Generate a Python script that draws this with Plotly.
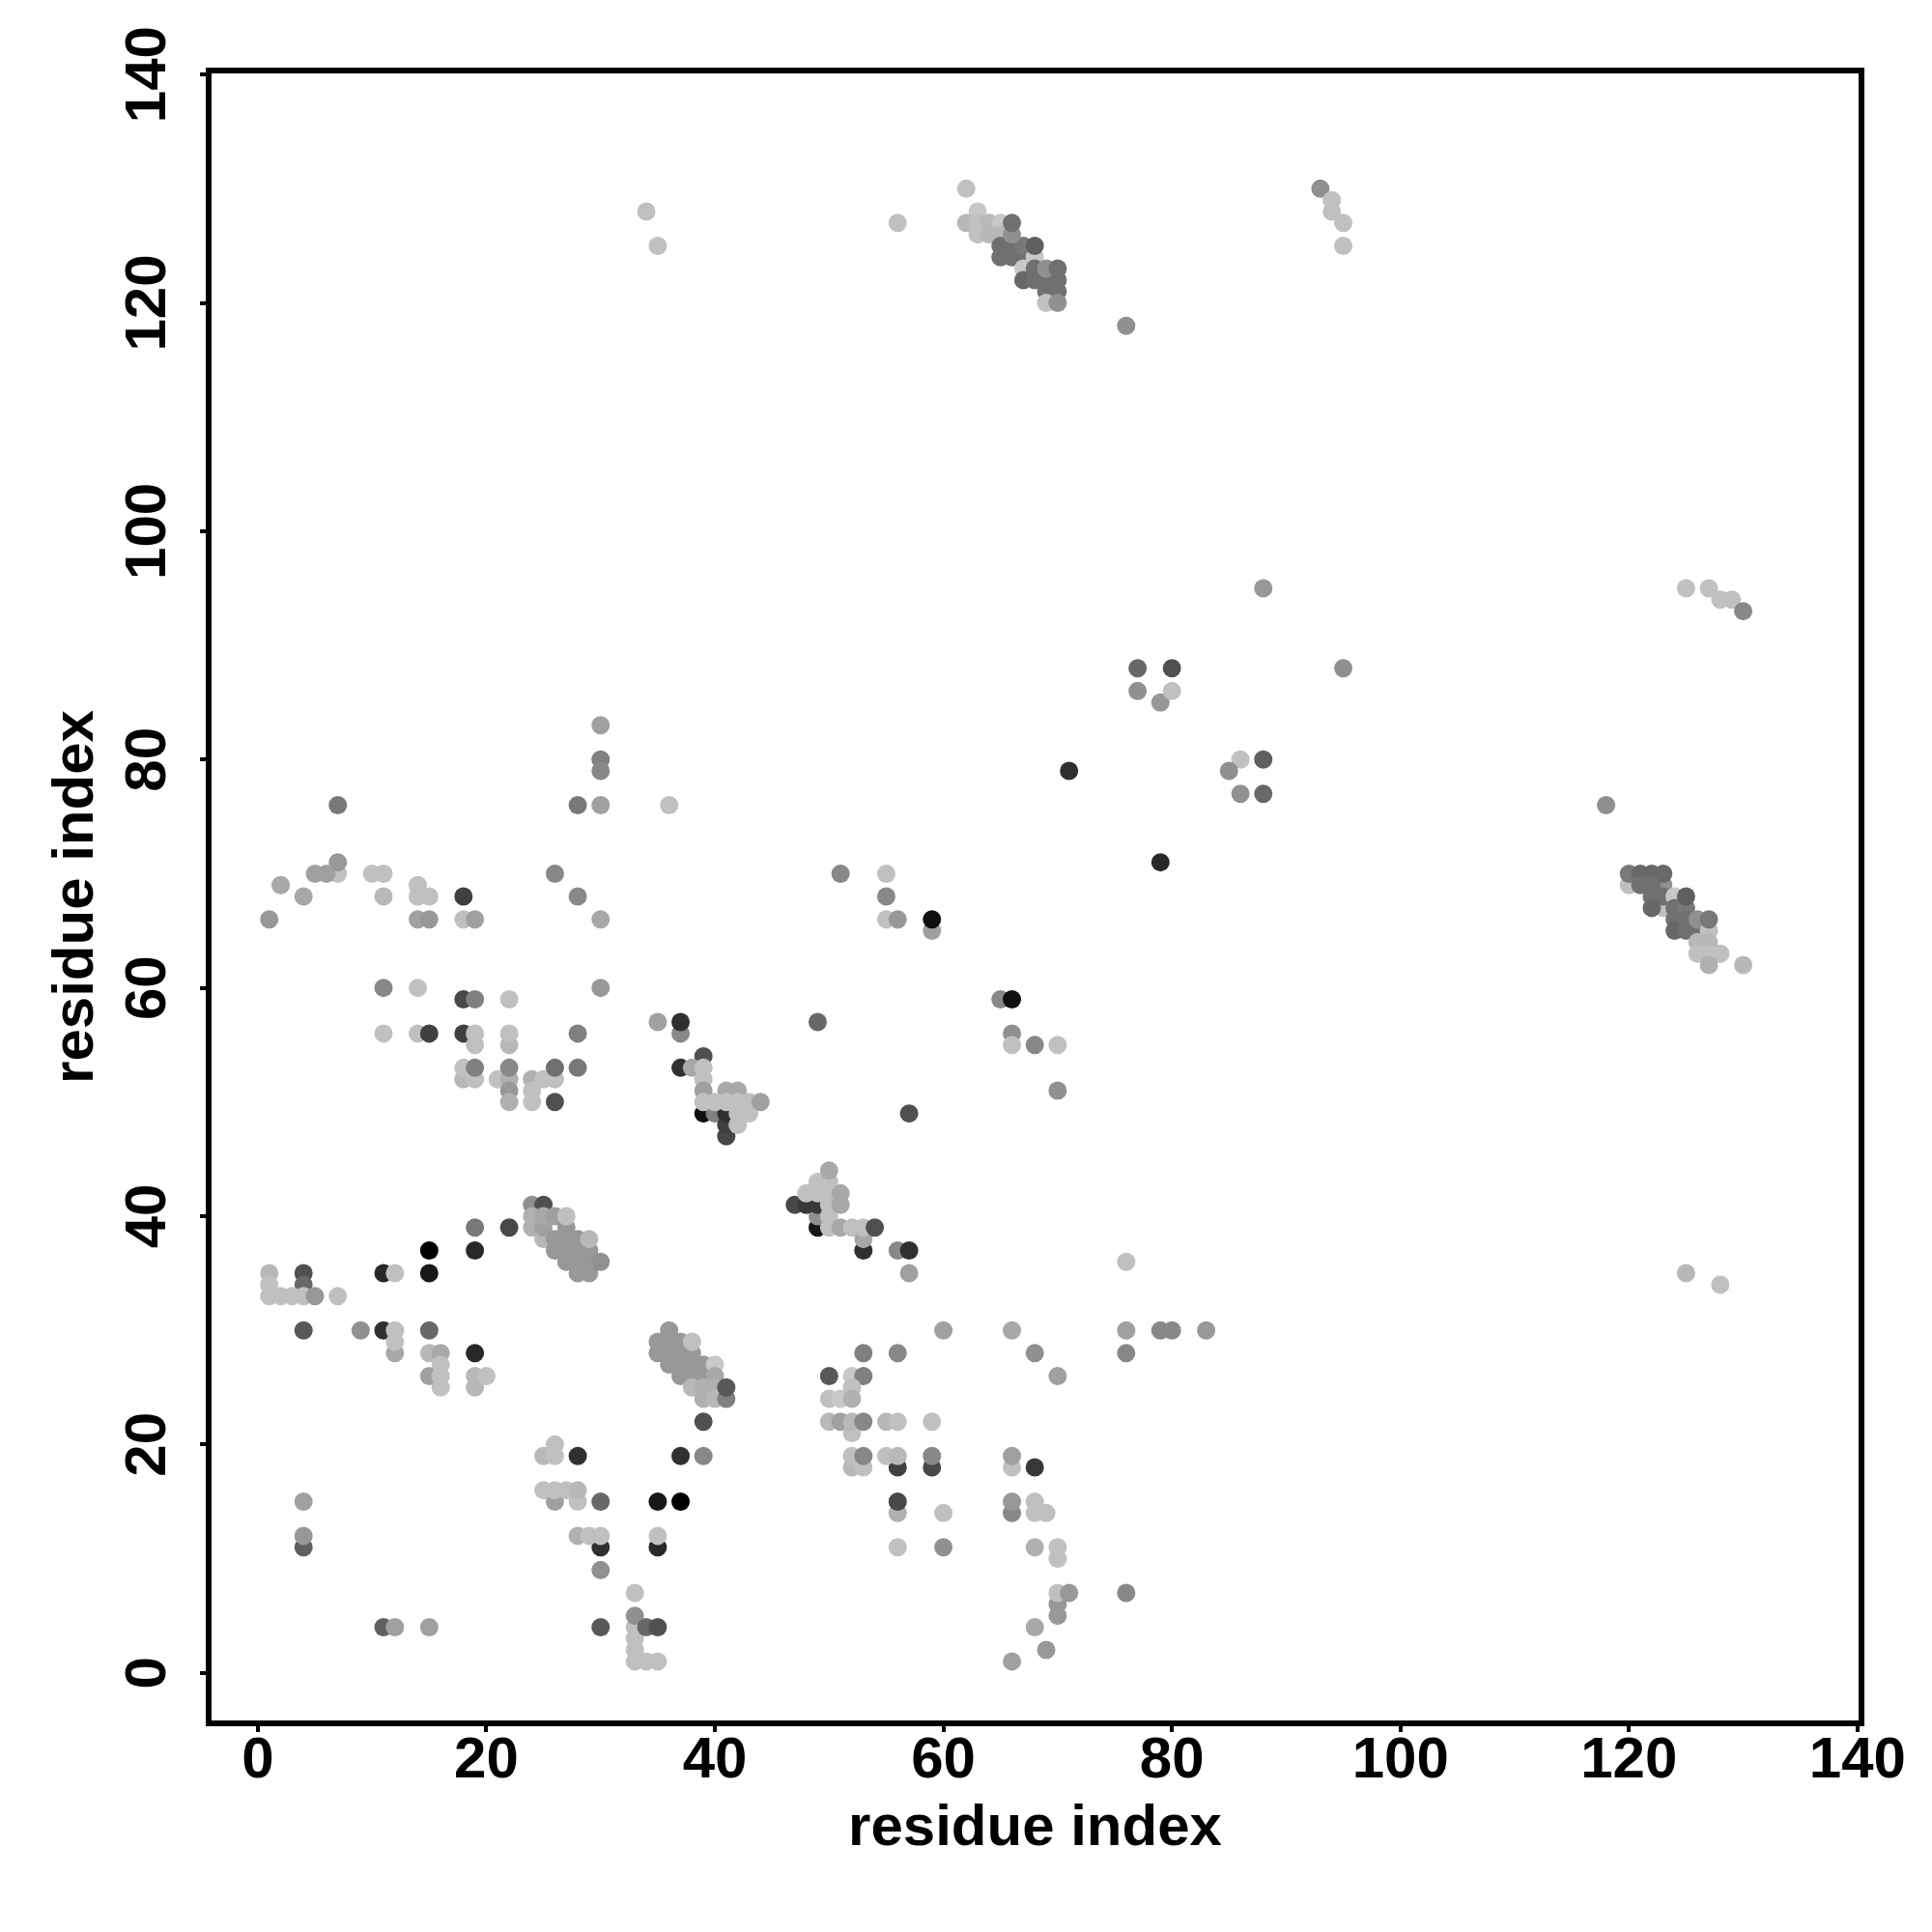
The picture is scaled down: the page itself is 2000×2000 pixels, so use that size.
import plotly.graph_objects as go

# Contacts as rows: (residue i, residue j, grey level)
contacts = [
 (62,130,0xc0),(93,130,0x90),(94,129,0xc0),(34,128,0xc0),(63,128,0xc8),(94,128,0xc0),
 (56,127,0xc0),(95,127,0xc0),(95,125,0xc0),(35,125,0xc0),
 (62,127,0xb8),(63,127,0xc0),(64,127,0xb8),(65,127,0xc8),(63,126,0xc0),(64,126,0xb8),(65,126,0xb8),
 (65,125,0x70),(65,124,0x70),(66,124,0x70),(66,125,0x70),(67,124,0x70),(67,125,0x78),
 (66,126,0x90),(66,127,0x70),(68,124,0xc8),(68,125,0x60),(67,123,0xc8),(67,122,0x68),
 (68,123,0x70),(68,122,0x70),(69,122,0x70),(70,122,0x70),(70,121,0x70),(69,121,0x70),
 (69,120,0xc0),(70,120,0x90),(69,123,0x90),(70,123,0x70),(76,118,0x90),
 (125,95,0xc0),(127,95,0xc0),(128,94,0xc0),(129,94,0xc0),(130,93,0x88),(88,95,0x98),
 (95,88,0x90),(77,88,0x68),(80,88,0x50),(77,86,0x90),(79,85,0x98),(80,86,0xc0),
 (30,83,0xa0),(86,80,0xc0),(30,80,0x80),(88,80,0x60),(71,79,0x30),(85,79,0x90),(30,79,0x88),
 (86,77,0x90),(88,77,0x68),(7,76,0x78),(28,76,0x78),(30,76,0xa0),(36,76,0xc0),(118,76,0x90),
 (7,70,0xc0),(7,71,0x98),(79,71,0x28),(5,70,0xa0),(6,70,0xa0),(10,70,0xc0),(11,70,0xc0),
 (26,70,0x88),(51,70,0x88),(55,70,0xc0),
 (120,69,0xc0),(120,70,0x78),(123,67,0xc0),(123,69,0x90),(121,70,0x68),(122,70,0x68),(123,70,0x68),
 (121,69,0x70),(122,69,0x70),(122,68,0x70),(123,68,0x70),(122,67,0x68),
 (124,68,0xc8),(124,67,0x70),(125,67,0x78),(124,66,0x70),(125,66,0x70),(124,65,0x68),(125,65,0x70),
 (125,68,0x60),(126,65,0x70),(126,66,0x90),(127,65,0xc0),(127,66,0x78),
 (126,64,0xb8),(127,64,0xb8),(126,63,0xc0),(127,63,0xc0),(128,63,0xc0),(127,62,0xb0),(130,62,0xb8),
 (2,69,0xa8),(14,69,0xc0),(4,68,0xa8),(11,68,0xb8),(14,68,0xc0),(15,68,0xc0),(18,68,0x40),
 (28,68,0x88),(55,68,0x88),(1,66,0x98),(14,66,0xa0),(15,66,0x98),(18,66,0xc0),(19,66,0xa0),
 (30,66,0xa8),(55,66,0xc0),(56,66,0x98),(59,65,0xa0),(59,66,0x10),
 (11,60,0x88),(14,60,0xc0),(30,60,0x98),(18,59,0x48),(19,59,0x80),(22,59,0xc0),
 (65,59,0x88),(66,59,0x10),(35,57,0xa0),(37,56,0x88),(37,57,0x30),(49,57,0x68),
 (11,56,0xc0),(14,56,0xc0),(15,56,0x40),(18,56,0x40),(19,55,0xc0),(19,56,0xc0),(22,55,0xb8),(22,56,0xc0),
 (28,56,0x80),(66,56,0x90),(66,55,0xc0),(68,55,0x88),(70,55,0xc0),
 (39,54,0x50),(18,52,0xb8),(19,52,0xc0),(18,53,0xc0),(19,53,0x80),(21,52,0xc0),(22,52,0xb0),
 (22,51,0x98),(22,50,0xb0),(22,53,0x88),(24,52,0xb0),(25,52,0xc0),(24,51,0xc0),(24,50,0xc0),
 (26,50,0x50),(26,52,0xc0),(26,53,0x70),(28,53,0x78),
 (37,53,0x30),(38,53,0xa8),(39,53,0xc0),(39,52,0xc0),(39,51,0xa0),(41,51,0xa8),(42,51,0xa8),
 (39,49,0x10),(40,49,0x80),(41,47,0x48),(41,48,0x40),(41,49,0x30),
 (39,50,0xc0),(40,50,0xc0),(41,50,0xc0),(42,50,0xc0),(43,50,0xc0),(42,49,0xc0),(43,49,0xc0),(42,48,0xc0),
 (44,50,0xa0),(70,51,0x90),(57,49,0x50),
 (49,39,0x18),(49,40,0x90),(47,41,0x48),(48,41,0x38),(49,41,0x38),(50,39,0xc0),(50,40,0xc0),(50,41,0xc0),
 (48,42,0xc0),(49,42,0xc0),(50,42,0xc0),(49,43,0xc0),(50,43,0xc0),(50,44,0xa8),(51,42,0xa8),(51,41,0xa8),
 (51,39,0xa8),(52,39,0xc0),(53,37,0x30),(53,38,0xa8),(53,39,0xc0),(54,39,0x50),(56,37,0x88),(57,37,0x30),(57,35,0xa0),
 (24,41,0x90),(25,41,0x50),(24,40,0xb0),(24,39,0xb0),(25,38,0xb8),(25,39,0xa0),(25,40,0xa8),(26,40,0xa0),
 (26,38,0x98),(26,37,0x98),(27,39,0x98),(27,38,0x98),(27,37,0x98),(27,36,0x98),(27,40,0xc0),
 (28,38,0x98),(28,37,0x98),(28,36,0x98),(28,35,0x98),(29,37,0x98),(29,36,0x98),(29,35,0x98),
 (30,36,0x90),(29,38,0xb8),(22,39,0x48),(19,39,0x78),(15,37,0x00),(19,37,0x28),
 (1,35,0xb8),(4,35,0x50),(11,35,0x28),(12,35,0xc0),(15,35,0x18),(1,34,0xc0),(4,34,0x68),
 (1,33,0xc0),(2,33,0xc0),(3,33,0xc0),(4,33,0xc0),(5,33,0x98),(7,33,0xc0),
 (76,36,0xc0),(125,35,0xb8),(128,34,0xc0),
 (4,30,0x58),(9,30,0x90),(11,30,0x30),(12,28,0xa8),(12,29,0xc0),(12,30,0xc0),(15,30,0x68),
 (15,28,0xb8),(16,28,0xa8),(19,28,0x28),(15,26,0xa0),(16,25,0xc0),(16,26,0xc0),(16,27,0xc0),
 (19,25,0xb8),(19,26,0xb8),(20,26,0xc0),
 (36,30,0x98),(35,29,0x98),(36,29,0x98),(37,29,0x98),(35,28,0x98),(36,28,0x98),(37,28,0x98),(38,28,0x98),
 (38,29,0xc0),(36,27,0x98),(37,27,0x98),(38,27,0x98),(39,27,0x98),(37,26,0x98),(38,26,0x98),(39,26,0x98),
 (40,27,0xc8),(40,26,0xa8),(38,25,0xb8),(39,25,0xb0),(40,25,0xb0),(39,24,0xb0),(40,24,0xb8),(41,24,0x80),(41,25,0x58),
 (60,30,0xa0),(66,30,0xa8),(76,30,0xa0),(79,30,0x88),(80,30,0x88),(83,30,0x98),(53,28,0x80),(56,28,0x88),
 (68,28,0x90),(76,28,0x88),(50,26,0x58),(52,26,0xc8),(53,26,0x80),(70,26,0xa0),
 (52,25,0xc0),(50,24,0xc0),(51,24,0xc8),(52,24,0xb0),(50,22,0xb8),(51,22,0xa0),(52,21,0xc0),(52,22,0xb8),(53,22,0x88),
 (55,22,0xb8),(56,22,0xc0),(59,22,0xc0),(39,22,0x50),(52,18,0xb8),(53,18,0xc0),(52,19,0xc0),(53,19,0x88),
 (56,18,0x40),(59,18,0x48),(55,19,0xc0),(56,19,0xb8),(59,19,0x88),(66,18,0xc0),(66,19,0xa0),(68,18,0x38),
 (25,19,0xb8),(26,20,0xc0),(26,19,0xc0),(28,19,0x30),(37,19,0x30),(39,19,0x88),
 (26,15,0xa0),(28,15,0xc0),(25,16,0xc0),(26,16,0xc0),(27,16,0xc0),(28,16,0xb8),(30,15,0x68),(35,15,0x18),(37,15,0x00),
 (4,15,0xa0),(56,14,0xb0),(56,15,0x48),(60,14,0xc0),(66,14,0x88),(66,15,0x98),(68,14,0xc0),(68,15,0xc0),(69,14,0xc0),
 (4,11,0x60),(4,12,0x98),(30,11,0x30),(28,12,0xb0),(29,12,0xc0),(30,12,0xc0),(35,11,0x28),(35,12,0xc0),
 (56,11,0xc0),(60,11,0x90),(68,11,0xb0),(70,10,0xc0),(70,11,0xc0),(30,9,0x90),
 (33,7,0xc0),(70,5,0x98),(70,6,0x98),(70,7,0xc0),(71,7,0x98),(76,7,0x88),
 (33,1,0xc0),(34,1,0xc0),(35,1,0xc0),(33,2,0xc0),(33,3,0xc0),(33,4,0xc0),(33,5,0x90),(34,4,0x68),(35,4,0x50),
 (30,4,0x58),(11,4,0x60),(12,4,0xa0),(15,4,0xa0),(68,4,0xa8),(69,2,0x98),(66,1,0xa0),
]
res_i = [c[0] for c in contacts]
res_j = [c[1] for c in contacts]
grey = [c[2] for c in contacts]
tick_vals = [0, 20, 40, 60, 80, 100, 120, 140]
axis_title = "residue index"

FONT = "Liberation Sans"
fig = go.Figure(go.Scatter(
    x=res_i, y=res_j, mode="markers", hoverinfo="skip",
    marker=dict(size=19, color=[f"rgb({g},{g},{g})" for g in grey], line=dict(width=0), opacity=1),
))
common = dict(
    tickvals=tick_vals, ticks="outside", ticklen=6, tickwidth=3.5, tickcolor="black",
    showline=True, mirror=True, linecolor="black", linewidth=5.5,
    showgrid=False, zeroline=False,
    tickfont=dict(family=FONT, size=60, color="black", weight="bold"),
)
fig.update_xaxes(range=[-4.05, 140.1], tickangle=0, ticklabelstandoff=-25,
                 title=dict(text=f"<b>{axis_title}</b>", font=dict(family=FONT, size=60, color="black"), standoff=18),
                 **common)
fig.update_yaxes(range=[-4.17, 140.1], tickangle=-90, ticklabelstandoff=12, ticklabelshift=9,
                 title=dict(text=f"<b>{axis_title}</b>", font=dict(family=FONT, size=60, color="black"), standoff=3),
                 **common)
fig.update_layout(width=2000, height=2000, showlegend=False,
                  paper_bgcolor="white", plot_bgcolor="white",
                  margin=dict(l=211, r=84, t=68, b=227, autoexpand=False))
fig.write_html("out.html")
